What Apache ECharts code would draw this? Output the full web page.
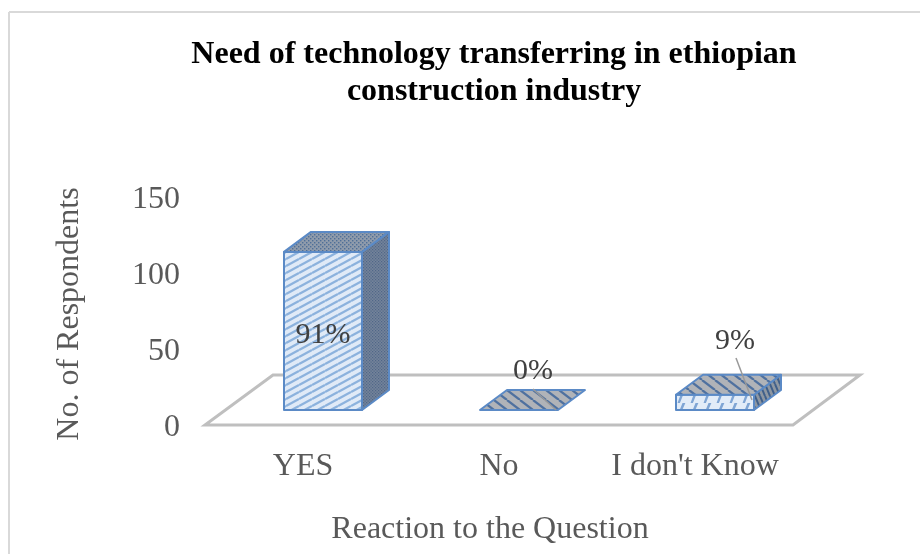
<!DOCTYPE html>
<html>
<head>
<meta charset="utf-8">
<title>Need of technology transferring</title>
<style>html,body{margin:0;padding:0;background:#fff}#chart{width:920px;height:554px}</style>
<script src="https://cdn.jsdelivr.net/npm/echarts@6/dist/echarts.min.js"></script>
</head>
<body>
<div id="chart"></div>
<script>
// Chart data
const categories = ["YES", "No", "I don't Know"];
const respondents = [104, 0, 10];
const shareLabels = ["91%", "0%", "9%"];
const yTicks = [0, 50, 100, 150];

const serif = '"Liberation Serif", "Times New Roman", serif';
const textColor = '#595959';
const edgeColor = '#5b8ac6';

// Tiled hatch textures for the three visible faces of a box
function tile(w, h, bg, paint) {
  const c = document.createElement('canvas');
  c.width = w; c.height = h;
  const g = c.getContext('2d');
  g.fillStyle = bg;
  g.fillRect(0, 0, w, h);
  paint(g);
  return { image: c, repeat: 'repeat' };
}
function risingStripes(w, h, bg, fg, lw) {
  return tile(w, h, bg, g => {
    g.strokeStyle = fg; g.lineWidth = lw;
    for (const o of [-h, 0, h]) {
      g.beginPath(); g.moveTo(0, h + o); g.lineTo(w, o); g.stroke();
    }
  });
}
function fallingStripes(w, h, bg, fg, lw) {
  return tile(w, h, bg, g => {
    g.strokeStyle = fg; g.lineWidth = lw;
    for (const o of [-w, 0, w]) {
      g.beginPath(); g.moveTo(o, 0); g.lineTo(o + w, h); g.stroke();
    }
  });
}
function dots(w, h, bg, fg, s) {
  return tile(w, h, bg, g => {
    g.fillStyle = fg;
    g.fillRect(0, 0, s, s);
    g.fillRect(w / 2, h / 2, s, s);
  });
}
function steps(w, h, bg, fg) {
  return tile(w, h, bg, g => {
    g.fillStyle = fg;
    g.beginPath();
    g.moveTo(w * 0.5, 0); g.lineTo(w * 0.72, 0); g.lineTo(w * 0.5, h * 0.5);
    g.lineTo(w * 0.3, h); g.lineTo(w * 0.12, h); g.lineTo(w * 0.3, h * 0.5);
    g.closePath(); g.fill();
  });
}

const faces = [
  {
    front: risingStripes(13, 7, '#e0eaf7', '#8cb2dd', 2.3),
    top: dots(4, 4, '#8f9bab', '#4f6f98', 1.4),
    side: dots(3, 3, '#74839a', '#4f6788', 1.2)
  },
  {
    front: risingStripes(13, 7, '#e0eaf7', '#8cb2dd', 2.3),
    top: fallingStripes(13, 10, '#b0b3b8', '#4f719f', 2.2),
    side: fallingStripes(6, 12, '#8e97a2', '#44648f', 2)
  },
  {
    front: steps(13, 13, '#e2ecf8', '#7fa5d4'),
    top: fallingStripes(13, 10, '#b0b3b8', '#4f719f', 2.2),
    side: fallingStripes(5, 12, '#8e97a2', '#3f5f8a', 2)
  }
];

// Receding depth of the pseudo-3D floor and boxes, in pixels
const depth = { dx: 68, dy: 50 };
const boxDepth = { dx: 27, dy: 20 };
const boxLift = 15;
const boxShift = 20;
const boxWidth = 78;

// Label centre from the band centre / axis zero, and optional leader line ends
const labelAnchors = [
  { dx: 20, dy: -90 },
  { dx: 34, dy: -54, leader: [[34, -36], [57, -15]] },
  { dx: 40, dy: -84, leader: [[41, -67], [57, -25]] }
];

function renderFloor(params, api) {
  const s = params.coordSys;
  const b = s.y + s.height;
  const r = s.x + s.width;
  return {
    type: 'polygon',
    shape: { points: [[s.x, b], [r, b], [r + depth.dx - 1, b - depth.dy], [s.x + depth.dx, b - depth.dy]] },
    style: { fill: 'none', stroke: '#bfbfbf', lineWidth: 3 }
  };
}

function renderBox(params, api) {
  const i = api.value(0);
  const zero = api.coord([i, 0]);
  const topPt = api.coord([i, api.value(1)]);
  const x0 = zero[0] + boxShift - boxWidth / 2;
  const x1 = x0 + boxWidth;
  const yb = zero[1] - boxLift;
  const yt = topPt[1] - boxLift;
  const { dx, dy } = boxDepth;
  const edge = { stroke: edgeColor, lineWidth: 2, lineJoin: 'round' };
  const f = faces[i];
  const children = [];
  if (yb - yt > 0.5) {
    children.push({
      type: 'polygon',
      shape: { points: [[x1, yb], [x1 + dx, yb - dy], [x1 + dx, yt - dy], [x1, yt]] },
      style: Object.assign({ fill: f.side }, edge)
    });
    children.push({
      type: 'polygon',
      shape: { points: [[x0, yb], [x1, yb], [x1, yt], [x0, yt]] },
      style: Object.assign({ fill: f.front }, edge)
    });
  }
  children.push({
    type: 'polygon',
    shape: { points: [[x0, yt], [x1, yt], [x1 + dx, yt - dy], [x0 + dx, yt - dy]] },
    style: Object.assign({ fill: f.top }, edge)
  });
  const a = labelAnchors[i];
  if (a.leader) {
    children.push({
      type: 'line',
      shape: {
        x1: zero[0] + a.leader[0][0], y1: zero[1] + a.leader[0][1],
        x2: zero[0] + a.leader[1][0], y2: zero[1] + a.leader[1][1]
      },
      style: { stroke: '#999999', lineWidth: 1.5 }
    });
  }
  children.push({
    type: 'text',
    style: {
      x: zero[0] + a.dx,
      y: zero[1] + a.dy,
      text: shareLabels[i],
      fill: '#404040',
      font: '30px ' + serif,
      align: 'center',
      verticalAlign: 'middle'
    }
  });
  return { type: 'group', children };
}

const chart = echarts.init(document.getElementById('chart'), null, { renderer: 'canvas' });
chart.setOption({
  animation: false,
  backgroundColor: '#ffffff',
  title: {
    text: 'Need of technology transferring in ethiopian\nconstruction industry',
    left: 489,
    top: 31,
    textAlign: 'center',
    textStyle: { fontFamily: serif, fontWeight: 'bold', fontSize: 32, lineHeight: 37, color: '#000000' }
  },
  grid: { left: 205, top: 197, width: 588, height: 228, containLabel: false },
  xAxis: {
    type: 'category',
    data: categories,
    name: 'Reaction to the Question',
    nameLocation: 'middle',
    nameGap: 89,
    nameTextStyle: { fontFamily: serif, fontSize: 32, color: textColor, padding: [0, 18, 0, 0] },
    axisLine: { show: false },
    axisTick: { show: false },
    axisLabel: { fontFamily: serif, fontSize: 32, color: textColor, margin: 26, interval: 0, hideOverlap: false }
  },
  yAxis: {
    type: 'value',
    min: yTicks[0],
    max: yTicks[yTicks.length - 1],
    interval: yTicks[1] - yTicks[0],
    name: 'No. of Respondents',
    nameLocation: 'middle',
    nameGap: 119,
    nameRotate: 90,
    nameTextStyle: { fontFamily: serif, fontSize: 32, color: textColor, padding: [0, 6, 0, 0] },
    axisLine: { show: false },
    axisTick: { show: false },
    splitLine: { show: false },
    axisLabel: { fontFamily: serif, fontSize: 32, color: textColor, margin: 25, verticalAlign: 'top', lineHeight: 5 }
  },
  graphic: [
    { type: 'line', silent: true, shape: { x1: 9, y1: 12, x2: 920, y2: 12 }, style: { stroke: '#d9d9d9', lineWidth: 2 } },
    { type: 'line', silent: true, shape: { x1: 9, y1: 12, x2: 9, y2: 554 }, style: { stroke: '#d9d9d9', lineWidth: 2 } }
  ],
  series: [
    { type: 'custom', silent: true, coordinateSystem: 'cartesian2d', data: [[0, 0]], renderItem: renderFloor, z: 1, clip: false },
    {
      type: 'custom',
      silent: true,
      coordinateSystem: 'cartesian2d',
      encode: { x: 0, y: 1 },
      data: respondents.map((v, i) => [i, v]),
      renderItem: renderBox,
      z: 2,
      clip: false
    }
  ]
});
</script>
</body>
</html>
